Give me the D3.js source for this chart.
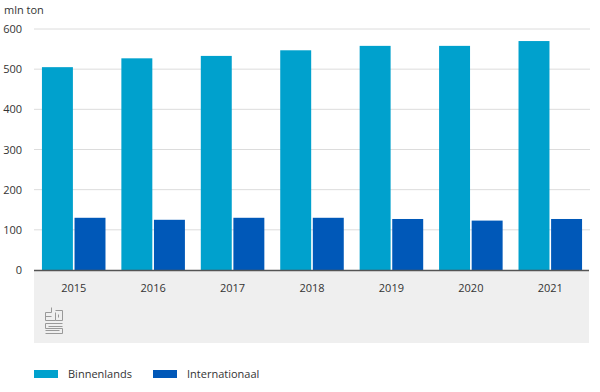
<!DOCTYPE html>
<html><head><meta charset="utf-8">
<script src="https://cdn.jsdelivr.net/npm/d3@7"></script>
<style>body{margin:0;background:#fff}svg{display:block;font-family:"Open Sans",sans-serif}</style>
</head><body>
<svg id="c" width="600" height="392"></svg>
<script>
const years = ["2015","2016","2017","2018","2019","2020","2021"];
const binnenlands = [505, 527, 533, 547, 558, 558, 570];
const internationaal = [130, 125, 130, 130, 127, 123, 127];
const yTicks = [0,100,200,300,400,500,600];
const seriesNames = ["Binnenlands","Internationaal"];
const colors = ["#00a1cd","#0058b8"];

const svg = d3.select("#c");
const L = 34, R = 590, T = 29, B = 270;
const x = d3.scaleBand().domain(years).range([L, R]).paddingInner(0.2).paddingOuter(0.1);
const y = d3.scaleLinear().domain([0,600]).range([B, T]);
const x1 = d3.scaleBand().domain(seriesNames).range([0, x.bandwidth()]).paddingInner(0.05);

// grey footer band
svg.append("rect").attr("x", L).attr("y", B).attr("width", R-L-1).attr("height", 73).attr("fill","#efefef");

// gridlines
svg.append("g").selectAll("line").data(yTicks.filter(d=>d>0)).join("line")
  .attr("x1", L).attr("x2", R).attr("y1", d=>y(d)).attr("y2", d=>y(d))
  .attr("stroke","#dcdcdc").attr("stroke-width",1);

// y labels
svg.append("g").selectAll("text").data(yTicks).join("text")
  .attr("x", 22).attr("y", d=>y(d)+4).attr("text-anchor","end")
  .attr("font-size",11).attr("fill","#333").text(d=>d);

svg.append("text").attr("x",4).attr("y",14).attr("font-size",11).attr("fill","#333").text("mln ton");

// bars
const data = years.map((yr,i)=>({yr, vals:[binnenlands[i], internationaal[i]]}));
const g = svg.append("g").selectAll("g").data(data).join("g")
  .attr("transform", d=>`translate(${x(d.yr)},0)`);
g.selectAll("rect").data(d=>d.vals.map((v,j)=>({v,name:seriesNames[j],j}))).join("rect")
  .attr("x", d=>x1(d.name)).attr("width", x1.bandwidth())
  .attr("y", d=>y(d.v)).attr("height", d=>B-y(d.v))
  .attr("fill", d=>colors[d.j]);

// axis line
svg.append("line").attr("x1",L).attr("x2",R-1).attr("y1",B+0.5).attr("y2",B+0.5).attr("stroke","#555").attr("stroke-width",1.5);

// x labels
svg.append("g").selectAll("text").data(years).join("text")
  .attr("x", d=>x(d)+x.bandwidth()/2).attr("y", 292).attr("text-anchor","middle")
  .attr("font-size",11).attr("fill","#333").text(d=>d);

// cbs logo (simple outline glyph)
const logo = svg.append("g").attr("transform","translate(45,307)").attr("fill","none").attr("stroke","#999").attr("stroke-width",1);
logo.append("path").attr("d","M6.5,0.5 V5.5 H0.5 V13.5 H10.5 M0.5,9.5 H6.5 M10.5,3.5 H17.5 V13.5 H10.5 V5.5 M13.5,7.5 V10.5 M0.5,16.5 H17.5 M0.5,16.5 V21.5 H17.5 V26.5 H0.5 M3.5,19.5 H17.5 M0.5,23.5 H14.5");

// legend
const lg = svg.append("g").selectAll("g").data(seriesNames).join("g")
  .attr("transform",(d,i)=>`translate(${34 + i*119},0)`);
lg.append("rect").attr("x",0).attr("y",370).attr("width",24).attr("height",8).attr("fill",(d,i)=>colors[i]);
lg.append("text").attr("x",34).attr("y",378).attr("font-size",11).attr("fill","#333").text(d=>d);
</script>
</body></html>
